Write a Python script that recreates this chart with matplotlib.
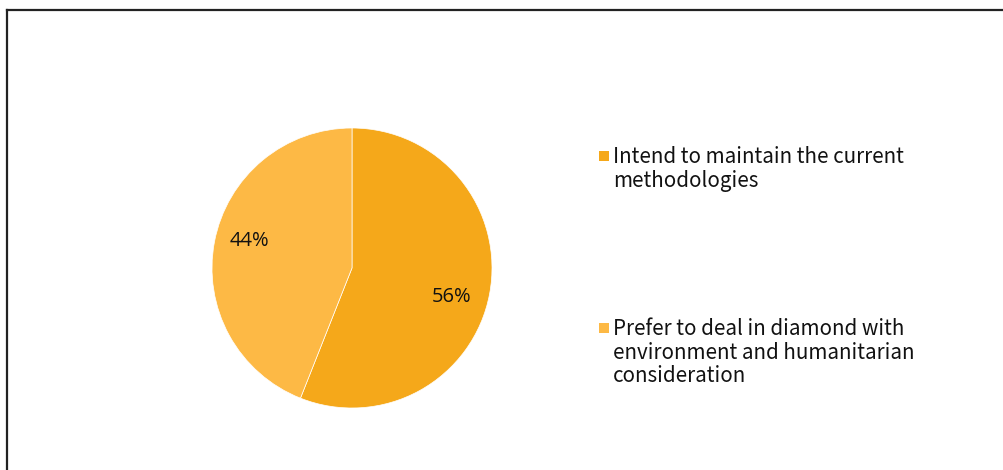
import matplotlib.pyplot as plt
from matplotlib.lines import Line2D
from matplotlib.patches import Rectangle

labels = ['Intend to maintain the current\nmethodologies',
          'Prefer to deal in diamond with\nenvironment and humanitarian\nconsideration']
shares = [56, 44]
colors = ['#F5A81A', '#FDB945']

W, H = 1004, 470
fig = plt.figure(figsize=(W / 100, H / 100), dpi=100)

# pie area, centred at (352, 268) px with radius 140 px
cx, cy, r = 352, 268, 140
ax = fig.add_axes([(cx - r) / W, 1 - (cy + r) / H, 2 * r / W, 2 * r / H])
wedges, texts, pcts = ax.pie(shares, colors=colors, startangle=90, counterclock=False,
                             autopct='%d%%', pctdistance=0.75,
                             wedgeprops=dict(linewidth=0.5, edgecolor='white'),
                             textprops=dict(fontsize=14.5, family=['Open Sans', 'DejaVu Sans'],
                                            color='#111111'))
ax.set_xlim(-1, 1)
ax.set_ylim(-1, 1)
ax.set_aspect('auto')
# nudge the percentage labels a little
pcts[0].set_position((0.71, -0.21))
pcts[1].set_position((-0.73, 0.19))

# legend entries drawn by hand
rows = [159, 331]
for lab, col, y in zip(labels, colors, rows):
    fig.add_artist(Rectangle((599 / W, 1 - (y + 2) / H), 10 / W, 10 / H,
                             transform=fig.transFigure, facecolor=col, edgecolor='none'))
    fig.text(613 / W, 1 - (y - 13) / H, lab, ha='left', va='top', fontsize=14.8,
             family=['Noto Sans CJK JP', 'DejaVu Sans'], linespacing=1.1, color='#111111')

# frame: left and top edges only visible
fig.add_artist(Line2D([7 / W, 7 / W], [0, 1 - 10 / H], transform=fig.transFigure,
                      color='#222222', linewidth=1.6))
fig.add_artist(Line2D([7 / W, 1], [1 - 10 / H, 1 - 10 / H], transform=fig.transFigure,
                      color='#222222', linewidth=1.6))

plt.savefig('out.png', dpi=100)
